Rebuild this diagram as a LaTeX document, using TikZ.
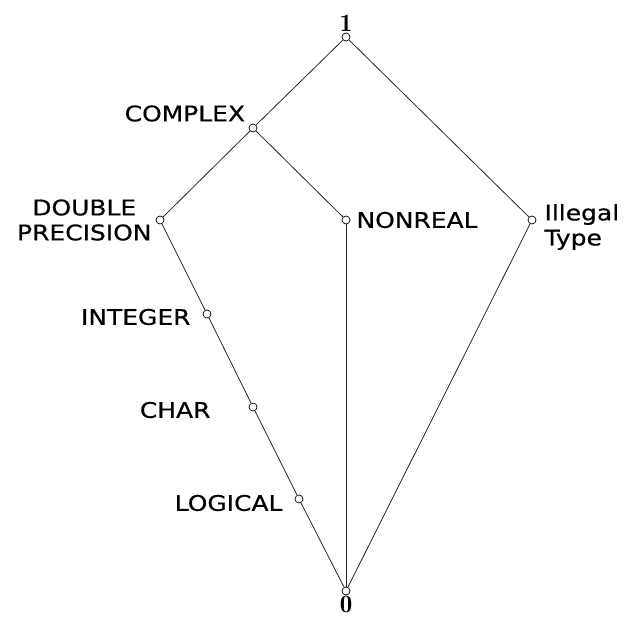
\documentclass[tikz,border=0pt]{standalone}
\usepackage{fontspec}
\usepackage{amsmath}
\newfontfamily\lblfont[FakeStretch=1.16,FakeBold=0.6]{DejaVu Sans}
\usetikzlibrary{positioning}

\begin{document}
\begin{tikzpicture}
	[   x=1pt,y=-1pt,
	    tnode/.style={draw=black,fill=white,circle,inner sep=0pt,minimum size=8pt,line width=0.7pt},
	    lbl/.style={font=\lblfont\fontsize{21.5}{25}\selectfont,inner sep=4pt},
	    num/.style={font=\fontsize{25}{27}\selectfont,inner sep=0.5pt},
	]
	\tikzset{lattice edge/.style={draw,black!85,line width=0.8pt}}
	\useasboundingbox (0,0) rectangle (628,618);
	
	\node[tnode,label={[num]90:$\mathbf{1}$}] (top) at (346,37) {};
	\node[tnode,label={[lbl]150:COMPLEX}] (complex) at (253,128) {};
	\node[tnode,label={[lbl,align=center]180:DOUBLE\\PRECISION}] (double) at (160,220) {};
	\node[tnode,label={[lbl,inner sep=6pt]0:NONREAL}] (nonreal) at (346,220) {};
	\node[tnode,label={[lbl,align=left,inner sep=8pt,yshift=-7pt]0:Illegal\\Type}] (illegal) at (532,220) {};
	\node[tnode,label={[lbl,label distance=8pt,yshift=-3pt]180:INTEGER}] (integer) at (207,314) {};
	\node[tnode,label={[lbl,label distance=34pt,yshift=-3pt]180:CHAR}] (char) at (253,407) {};
	\node[tnode,label={[lbl,label distance=8pt,yshift=-4pt]180:LOGICAL}] (logical) at (299,499) {};
	\node[tnode,label={[num]-90:$\mathbf{0}$}] (bottom) at (346,591) {};
	
	% covering relations
	\foreach \a/\b in {top/complex,top/illegal,complex/double,complex/nonreal,
		double/integer,integer/char,char/logical,logical/bottom,
		nonreal/bottom,illegal/bottom}
	{
		\path[lattice edge] (\a) -- (\b);
	}
\end{tikzpicture}
\end{document}
